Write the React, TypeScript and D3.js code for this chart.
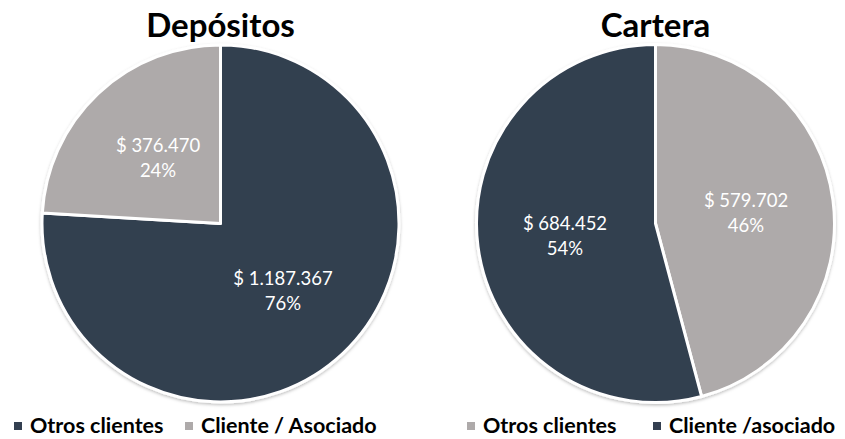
import React from "react";
import * as d3 from "d3";

const depCategories = ["Otros clientes", "Cliente / Asociado"];
const depValues = [1187367, 376470];
const depLabels = ["$ 1.187.367", "$ 376.470"];
const depPercents = ["76%", "24%"];

const carCategories = ["Otros clientes", "Cliente /asociado"];
const carValues = [579702, 684452];
const carLabels = ["$ 579.702", "$ 684.452"];
const carPercents = ["46%", "54%"];

const DARK = "#333F50";
const GRAY = "#AEAAAA";
const FONT = "Lato, 'Open Sans', sans-serif";

type PieProps = {
  cx: number;
  cy: number;
  r: number;
  title: string;
  values: number[];
  labels: string[];
  percents: string[];
  colors: string[];
  categories: string[];
  legendX: number[];
};

function Pie({ cx, cy, r, title, values, labels, percents, colors, categories, legendX }: PieProps) {
  const pie = d3.pie<number>().sort(null).value((d) => d);
  const arcs = pie(values);
  const arc = d3.arc<d3.PieArcDatum<number>>().innerRadius(0).outerRadius(r);
  const labelArc = d3.arc<d3.PieArcDatum<number>>().innerRadius(r * 0.51).outerRadius(r * 0.51);
  return (
    <g>
      <text x={cx} y={37} textAnchor="middle" fontFamily={FONT} fontWeight="bold" fontSize={33} fill="#000">
        {title}
      </text>
      <g transform={`translate(${cx},${cy})`} filter="url(#shadow)">
        {arcs.map((a, i) => (
          <path key={i} d={arc(a) || ""} fill={colors[i]} stroke="#fff" strokeWidth={3} strokeLinejoin="round" />
        ))}
      </g>
      <g transform={`translate(${cx},${cy})`}>
        {arcs.map((a, i) => {
          const [lx, ly] = labelArc.centroid(a);
          return (
            <text key={i} x={lx} y={ly} textAnchor="middle" fontFamily={FONT} fontSize={18.5} fill="#fff">
              <tspan x={lx} dy={-5}>{labels[i]}</tspan>
              <tspan x={lx} dy={25}>{percents[i]}</tspan>
            </text>
          );
        })}
      </g>
      {categories.map((c, i) => (
        <g key={c}>
          <rect x={legendX[i]} y={422} width={8} height={8} fill={colors[i]} />
          <text x={legendX[i] + 16} y={433} fontFamily={FONT} fontWeight="bold" fontSize={21.5} fill="#000">
            {c}
          </text>
        </g>
      ))}
    </g>
  );
}

export default function App() {
  return (
    <svg width={845} height={439} style={{ position: "absolute", left: 0, top: 0, background: "#fff" }}>
      <defs>
        <filter id="shadow" x="-10%" y="-10%" width="120%" height="125%">
          <feDropShadow dx="0" dy="1.5" stdDeviation="1.5" floodColor="#000" floodOpacity="0.25" />
        </filter>
      </defs>
      <Pie
        cx={220.5}
        cy={223.5}
        r={178.5}
        title="Depósitos"
        values={depValues}
        labels={depLabels}
        percents={depPercents}
        colors={[DARK, GRAY]}
        categories={depCategories}
        legendX={[14, 185]}
      />
      <Pie
        cx={655.5}
        cy={223.5}
        r={179}
        title="Cartera"
        values={carValues}
        labels={carLabels}
        percents={carPercents}
        colors={[GRAY, DARK]}
        categories={carCategories}
        legendX={[467, 653]}
      />
    </svg>
  );
}
